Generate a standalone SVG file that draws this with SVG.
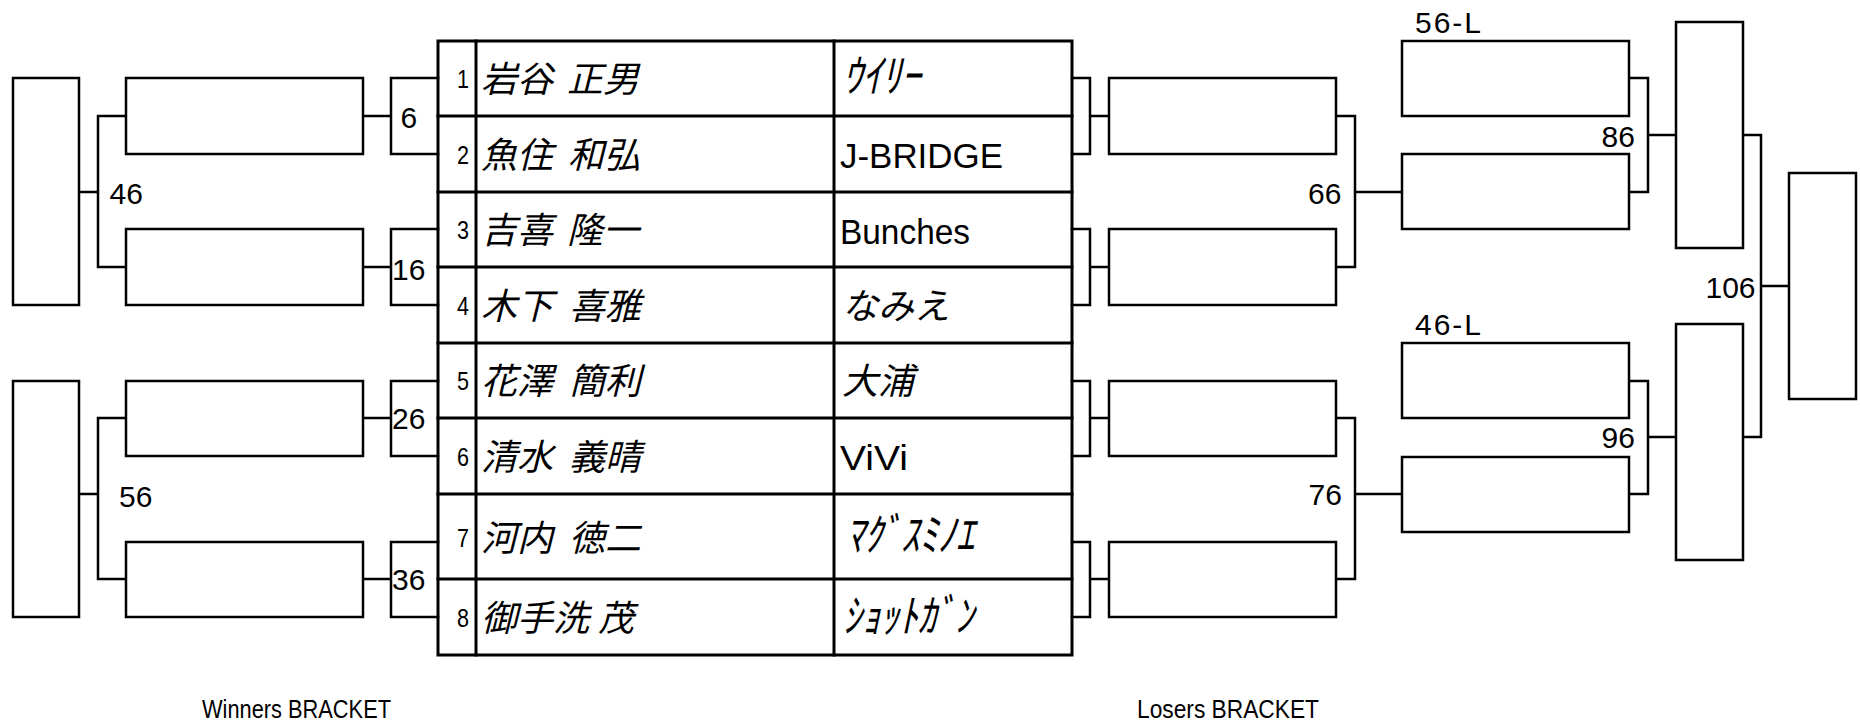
<svg xmlns="http://www.w3.org/2000/svg" width="1860" height="723" viewBox="0 0 1860 723">
<style>
.bx{fill:#fff;stroke:#000;stroke-width:2.5}
.ln{fill:none;stroke:#000;stroke-width:2.5;stroke-linecap:square}
.tb{fill:none;stroke:#000;stroke-width:3;stroke-linecap:square}
.num{font-family:"Liberation Sans",Arial,sans-serif;font-size:30px;fill:#000}
.seed{font-family:"Liberation Sans",Arial,sans-serif;font-size:25px;text-anchor:end;fill:#000}
.nm{font-family:"Noto Sans CJK JP",sans-serif;font-size:36px;font-style:italic;fill:#000}
.tmL{font-family:"Liberation Sans",Arial,sans-serif;font-size:35px;fill:#000}
.tmJ{font-family:"Noto Sans CJK JP",sans-serif;font-size:36px;font-style:italic;fill:#000}
.cap{font-family:"Liberation Sans",Arial,sans-serif;font-size:25px;fill:#000}
</style>
<rect x="0" y="0" width="1860" height="723" fill="#fff"/>

<g id="connectors">
<path class="ln" d="M79 192H98M126 116H98V267H126"/>
<path class="ln" d="M79 494H98M126 418H98V579H126"/>
<path class="ln" d="M363 116H391M438 78H391V154H438"/>
<path class="ln" d="M363 267H391M438 229H391V305H438"/>
<path class="ln" d="M363 418H391M438 381H391V456H438"/>
<path class="ln" d="M363 579H391M438 542H391V617H438"/>
<path class="ln" d="M1072 78H1090V154H1072M1090 116H1109"/>
<path class="ln" d="M1072 229H1090V305H1072M1090 267H1109"/>
<path class="ln" d="M1072 381H1090V456H1072M1090 418H1109"/>
<path class="ln" d="M1072 542H1090V617H1072M1090 579H1109"/>
<path class="ln" d="M1336 116H1355V267H1336M1355 192H1402"/>
<path class="ln" d="M1336 418H1355V579H1336M1355 494H1402"/>
<path class="ln" d="M1629 78H1648V192H1629M1648 135H1676"/>
<path class="ln" d="M1629 381H1648V494H1629M1648 437H1676"/>
<path class="ln" d="M1743 135H1761V437H1743M1761 286H1789"/>
</g>

<g id="w-final-1"><rect class="bx" x="13" y="78" width="66" height="227"/></g>
<g id="w-final-2"><rect class="bx" x="13" y="381" width="66" height="236"/></g>
<g id="w-b1"><rect class="bx" x="126" y="78" width="237" height="76"/></g>
<g id="w-b2"><rect class="bx" x="126" y="229" width="237" height="76"/></g>
<g id="w-b3"><rect class="bx" x="126" y="381" width="237" height="75"/></g>
<g id="w-b4"><rect class="bx" x="126" y="542" width="237" height="75"/></g>
<g id="l-b1"><rect class="bx" x="1109" y="78" width="227" height="76"/></g>
<g id="l-b2"><rect class="bx" x="1109" y="229" width="227" height="76"/></g>
<g id="l-b3"><rect class="bx" x="1109" y="381" width="227" height="75"/></g>
<g id="l-b4"><rect class="bx" x="1109" y="542" width="227" height="75"/></g>
<g id="l-r1a"><rect class="bx" x="1402" y="41" width="227" height="75"/><text class="num" x="1415" y="33" textLength="66" lengthAdjust="spacing">56-L</text></g>
<g id="l-r1b"><rect class="bx" x="1402" y="154" width="227" height="75"/></g>
<g id="l-r2a"><rect class="bx" x="1402" y="343" width="227" height="75"/><text class="num" x="1415" y="335" textLength="66" lengthAdjust="spacing">46-L</text></g>
<g id="l-r2b"><rect class="bx" x="1402" y="457" width="227" height="75"/></g>
<g id="l-t1"><rect class="bx" x="1676" y="22" width="67" height="226"/></g>
<g id="l-t2"><rect class="bx" x="1676" y="324" width="67" height="236"/></g>
<g id="final"><rect class="bx" x="1789" y="173" width="67" height="226"/></g>

<g id="match-labels">
<text class="num" x="400.5" y="128">6</text>
<text class="num" x="392" y="280">16</text>
<text class="num" x="392" y="429">26</text>
<text class="num" x="392" y="590">36</text>
<text class="num" x="109.5" y="204">46</text>
<text class="num" x="119" y="507">56</text>
<text class="num" x="1308" y="204">66</text>
<text class="num" x="1308.5" y="505">76</text>
<text class="num" x="1601.5" y="147">86</text>
<text class="num" x="1601.5" y="448">96</text>
<text class="num" x="1705.5" y="298">106</text>
</g>

<g id="table">
<rect class="tb" x="438" y="41" width="634" height="614"/>
<path class="tb" d="M476 41V655M834 41V655M438 116H1072M438 192H1072M438 267H1072M438 343H1072M438 418H1072M438 494H1072M438 579H1072"/>
</g>

<g id="entry-1"><text class="seed" x="469" y="88" textLength="12" lengthAdjust="spacingAndGlyphs">1</text><text class="nm" y="92"><tspan x="481">岩谷</tspan><tspan x="567">正男</tspan></text><text class="tmJ" transform="translate(843 92) scale(1.08 1.25)">ｳｲﾘｰ</text></g>
<g id="entry-2"><text class="seed" x="469" y="163.5" textLength="12" lengthAdjust="spacingAndGlyphs">2</text><text class="nm" y="167.5"><tspan x="481">魚住</tspan><tspan x="568">和弘</tspan></text><text class="tmL" x="840" y="168" textLength="163" lengthAdjust="spacingAndGlyphs">J-BRIDGE</text></g>
<g id="entry-3"><text class="seed" x="469" y="239" textLength="12" lengthAdjust="spacingAndGlyphs">3</text><text class="nm" y="243"><tspan x="481">吉喜</tspan><tspan x="567">隆一</tspan></text><text class="tmL" x="840" y="243.5" textLength="130" lengthAdjust="spacingAndGlyphs">Bunches</text></g>
<g id="entry-4"><text class="seed" x="469" y="314.5" textLength="12" lengthAdjust="spacingAndGlyphs">4</text><text class="nm" y="318.5"><tspan x="481">木下</tspan><tspan x="569">喜雅</tspan></text><text class="tmJ" x="842" y="318.5">なみえ</text></g>
<g id="entry-5"><text class="seed" x="469" y="390" textLength="12" lengthAdjust="spacingAndGlyphs">5</text><text class="nm" y="394"><tspan x="481">花澤</tspan><tspan x="569">簡利</tspan></text><text class="tmJ" x="842" y="394">大浦</text></g>
<g id="entry-6"><text class="seed" x="469" y="465.5" textLength="12" lengthAdjust="spacingAndGlyphs">6</text><text class="nm" y="469.5"><tspan x="481">清水</tspan><tspan x="569">義晴</tspan></text><text class="tmL" x="840" y="470" textLength="68" lengthAdjust="spacingAndGlyphs">ViVi</text></g>
<g id="entry-7"><text class="seed" x="469" y="546.5" textLength="12" lengthAdjust="spacingAndGlyphs">7</text><text class="nm" y="550.5"><tspan x="481">河内</tspan><tspan x="569">徳二</tspan></text><text class="tmJ" transform="translate(846 551) scale(1.02 1.25)">ﾏｸﾞｽﾐﾉｴ</text></g>
<g id="entry-8"><text class="seed" x="469" y="627" textLength="12" lengthAdjust="spacingAndGlyphs">8</text><text class="nm" y="631"><tspan x="481">御手洗</tspan><tspan x="598">茂</tspan></text><text class="tmJ" transform="translate(843 632) scale(1.04 1.25)">ｼｮｯﾄｶﾞﾝ</text></g>

<g id="captions">
<text class="cap" x="202" y="718" textLength="189" lengthAdjust="spacingAndGlyphs">Winners BRACKET</text>
<text class="cap" x="1137" y="718" textLength="182" lengthAdjust="spacingAndGlyphs">Losers BRACKET</text>
</g>
</svg>
